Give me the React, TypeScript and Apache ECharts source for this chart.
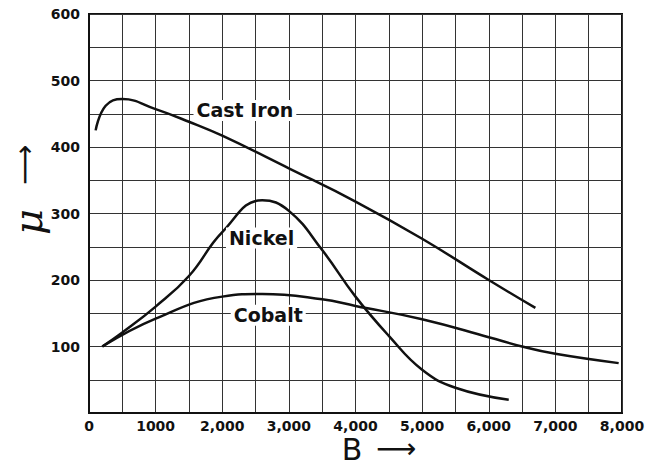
import React, { useEffect, useRef } from "react";
import * as echarts from "echarts";

// B values (gauss) and permeability μ
const castIronB = [100, 250, 500, 1000, 1500, 2000, 3000, 4000, 5000, 6000, 6700];
const castIronMu = [425, 462, 472, 457, 438, 417, 368, 318, 262, 200, 158];

const nickelB = [200, 500, 1000, 1500, 2000, 2600, 3000, 3500, 4000, 4500, 5000, 5500, 6300];
const nickelMu = [100, 121, 160, 206, 272, 320, 304, 245, 175, 116, 65, 38, 20];

const cobaltB = [200, 1000, 2000, 2600, 3500, 4000, 5000, 6000, 6500, 7000, 7950];
const cobaltMu = [100, 142, 175, 179, 171, 161, 141, 114, 100, 89, 75];

const xTickValues = [0, 1000, 2000, 3000, 4000, 5000, 6000, 7000, 8000];
const xTickLabels = ["0", "1000", "2,000", "3,000", "4,000", "5,000", "6,000", "7,000", "8,000"];
const yTickValues = [100, 200, 300, 400, 500, 600];

const seriesNames = ["Cast Iron", "Nickel", "Cobalt"];
const labelB = [2340, 2590, 2690];
const labelMu = [455, 263, 147];

const zip = (xs: number[], ys: number[]) => xs.map((x, i) => [x, ys[i]]);

export default function App() {
  const ref = useRef<HTMLDivElement>(null);
  useEffect(() => {
    if (!ref.current) return;
    const chart = echarts.init(ref.current, null, { renderer: "svg" });
    const ink = "#111";
    const font = "DejaVu Sans";
    const datasets = [zip(castIronB, castIronMu), zip(nickelB, nickelMu), zip(cobaltB, cobaltMu)];
    chart.setOption({
      animation: false,
      backgroundColor: "#fff",
      grid: {
        left: 89,
        right: 27,
        top: 14,
        bottom: 52,
        show: true,
        borderColor: ink,
        borderWidth: 2,
      },
      xAxis: {
        type: "value",
        min: 0,
        max: 8000,
        interval: 500,
        axisLine: { show: true, lineStyle: { color: ink, width: 2 } },
        axisTick: { show: false },
        splitLine: { show: true, lineStyle: { color: "#333", width: 1 } },
        axisLabel: {
          margin: 6,
          color: ink,
          fontFamily: font,
          fontSize: 14,
          fontWeight: "bold",
          formatter: (v: number) => {
            const i = xTickValues.indexOf(v);
            return i >= 0 ? xTickLabels[i] : "";
          },
        },
      },
      yAxis: {
        type: "value",
        min: 0,
        max: 600,
        interval: 50,
        axisLine: { show: true, lineStyle: { color: ink, width: 2 } },
        axisTick: { show: false },
        splitLine: { show: true, lineStyle: { color: "#333", width: 1 } },
        axisLabel: {
          margin: 9,
          color: ink,
          fontFamily: font,
          fontSize: 14,
          fontWeight: "bold",
          formatter: (v: number) => (yTickValues.indexOf(v) >= 0 ? String(v) : ""),
        },
      },
      series: datasets.map((d, i) => ({
        name: seriesNames[i],
        type: "line",
        data: d,
        smooth: 0.45,
        showSymbol: false,
        lineStyle: { color: ink, width: 2.5 },
        markPoint: {
          symbol: "rect",
          symbolSize: 1,
          itemStyle: { color: "rgba(0,0,0,0)" },
          data: [
            {
              coord: [labelB[i], labelMu[i]],
              label: {
                show: true,
                position: "inside",
                formatter: seriesNames[i],
                color: ink,
                fontFamily: font,
                fontSize: 19,
                fontWeight: "bold",
                backgroundColor: "#fff",
                padding: [1, 3],
              },
            },
          ],
        },
      })),
      graphic: [
        {
          type: "text",
          x: 28,
          y: 222,
          rotation: Math.PI / 2,
          style: {
            text: "μ",
            fill: ink,
            font: "italic 40px DejaVu Serif",
            align: "center",
            verticalAlign: "middle",
          },
        },
        {
          type: "text",
          x: 24,
          y: 165,
          rotation: Math.PI / 2,
          style: {
            text: "⟶",
            fill: ink,
            font: "28px DejaVu Sans",
            align: "center",
            verticalAlign: "middle",
          },
        },
        {
          type: "text",
          x: 352,
          y: 449,
          style: {
            text: "B",
            fill: ink,
            font: "30px DejaVu Sans",
            align: "center",
            verticalAlign: "middle",
          },
        },
        {
          type: "text",
          x: 396,
          y: 448,
          style: {
            text: "⟶",
            fill: ink,
            font: "28px DejaVu Sans",
            align: "center",
            verticalAlign: "middle",
          },
        },
      ],
    });
    return () => chart.dispose();
  }, []);
  return <div ref={ref} style={{ position: "absolute", left: 0, top: 0, width: 649, height: 465 }} />;
}
